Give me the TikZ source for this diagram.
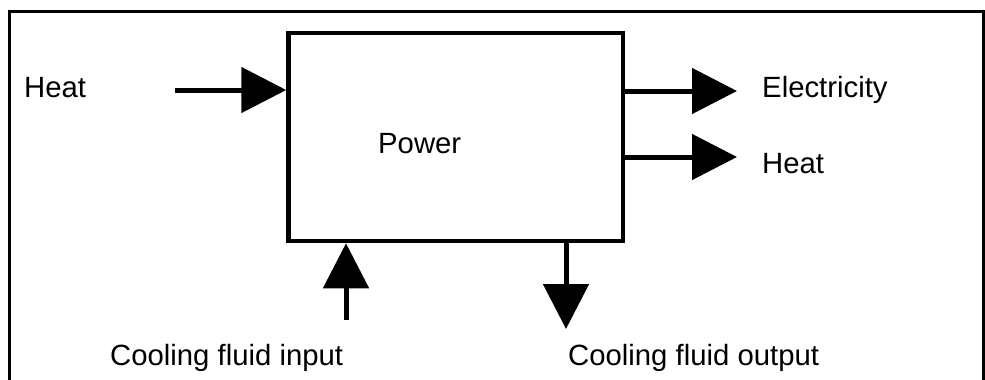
\documentclass[tikz,border=0pt]{standalone}
\usepackage{fontspec}
\setmainfont{Liberation Sans}
\usetikzlibrary{arrows.meta}
\begin{document}
\begin{tikzpicture}[x=1pt,y=-1pt,
  lbl/.style={anchor=base west, inner sep=0pt, font=\fontsize{29.3}{35}\selectfont},
  flow/.style={line width=5pt, -{Triangle[length=45pt,width=45pt]}},
  frameline/.style={line width=3pt}]
\useasboundingbox (0,0) rectangle (985,380);
% outer frame
\coordinate (fbl) at (9.5,380);
\coordinate (ftl) at (9.5,11.5);
\coordinate (ftr) at (983.5,11.5);
\coordinate (fbr) at (983.5,380);
\draw[frameline] (fbl) -- (ftl) -- (ftr) -- (fbr);
% main box
\node[draw, line width=4.5pt, minimum width=334.5pt, minimum height=208pt,
      inner sep=0pt] (box) at (455.75,137) {};
\node[lbl] (power) at (378,153) {Power};
% heat input
\coordinate (hin) at (175,90);
\draw[flow] (hin) -- (hin -| box.west);
\node[lbl] (heatin) at (24,97) {Heat};
% electricity output
\coordinate (eout) at (737,91);
\draw[flow] (eout -| box.east) -- (eout);
\node[lbl] (elec) at (762,97) {Electricity};
% heat output
\coordinate (hout) at (737,157);
\draw[flow] (hout -| box.east) -- (hout);
\node[lbl] (heatout) at (762,173) {Heat};
% cooling fluid input
\coordinate (cin) at (346,320);
\draw[flow] (cin) -- (cin |- box.south);
\node[lbl] (cinl) at (110,365) {Cooling fluid input};
% cooling fluid output
\coordinate (cout) at (566,329);
\draw[flow] (cout |- box.south) -- (cout);
\node[lbl] (coutl) at (568,365) {Cooling fluid output};
\end{tikzpicture}
\end{document}
